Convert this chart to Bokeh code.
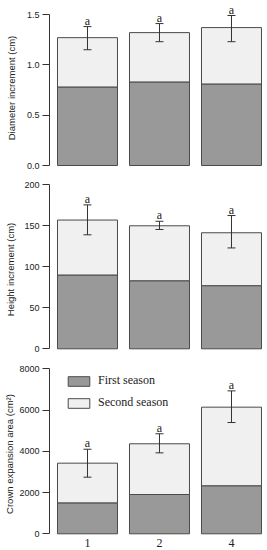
from bokeh.plotting import figure
from bokeh.models import Range1d, FixedTicker, ColumnDataSource, Whisker, TeeHead, Legend, LegendItem
from bokeh.layouts import column
from bokeh.embed import file_html
from bokeh.resources import INLINE
from bokeh.core.properties import value

# ---------------- data ----------------
categories = ["1", "2", "4"]

diam_first = [0.78, 0.83, 0.81]
diam_total = [1.27, 1.32, 1.37]
diam_err_low = [1.15, 1.23, 1.23]
diam_err_high = [1.38, 1.41, 1.49]
diam_letters = ["a", "a", "a"]
diam_ticks = [0, 0.5, 1.0, 1.5]
diam_tick_labels = ["0.0", "0.5", "1.0", "1.5"]

height_first = [90, 83, 77]
height_total = [157, 150, 141.5]
height_err_low = [139, 145.5, 123]
height_err_high = [175.5, 155.5, 162.5]
height_letters = ["a", "a", "a"]
height_ticks = [0, 50, 100, 150, 200]
height_tick_labels = ["0", "50", "100", "150", "200"]

crown_first = [1500, 1905, 2330]
crown_total = [3425, 4365, 6140]
crown_err_low = [2745, 3925, 5395]
crown_err_high = [4100, 4850, 6930]
crown_letters = ["a", "a", "a"]
crown_ticks = [0, 2000, 4000, 6000, 8000]
crown_tick_labels = ["0", "2000", "4000", "6000", "8000"]

series_names = ["First season", "Second season"]

# ---------------- style ----------------
DARK = "#999999"
LIGHT = "#f0f0f0"
EDGE = "#4a4a4a"
INK = "#222222"
SANS = "'Liberation Sans Narrow', 'Liberation Sans', Arial, sans-serif"
SANS_T = "'Liberation Sans', Arial, sans-serif"
SERIF = "'Liberation Serif', 'Times New Roman', serif"

# R barplot layout: width 1, space 0.2
xs = [0.2 + 0.5 + 1.2 * i for i in range(len(categories))]


def panel(first, total, lo, hi, letters, ticks, tick_labels, ylab,
          yr, height, mbt, standoff, show_x=False, legend=False):
    p = figure(width=267, height=height, output_backend="svg", toolbar_location=None,
               x_range=Range1d(0.0667, 3.7), y_range=Range1d(*yr),
               x_axis_location=None, min_border_left=49, min_border_right=0,
               min_border_top=mbt, min_border_bottom=0)
    p.outline_line_color = None
    p.xgrid.visible = False
    p.ygrid.visible = False
    p.background_fill_color = "white"

    src = ColumnDataSource(dict(x=xs, first=first, total=total, lo=lo, hi=hi,
                                zero=[0] * len(xs), letters=letters, cat=categories))
    r1 = p.vbar(x="x", bottom="zero", top="first", width=1.0, source=src,
                fill_color=DARK, line_color=EDGE, line_width=1)
    r2 = p.vbar(x="x", bottom="first", top="total", width=1.0, source=src,
                fill_color=LIGHT, line_color=EDGE, line_width=1)

    w = Whisker(base="x", lower="lo", upper="hi", source=src, dimension="height",
                line_color="#333333", line_width=1, level="overlay",
                upper_head=TeeHead(size=8, line_color="#333333", line_width=1),
                lower_head=TeeHead(size=8, line_color="#333333", line_width=1))
    p.add_layout(w)

    p.text(x="x", y="hi", text="letters", source=src, y_offset=-6,
           text_align="center", text_baseline="alphabetic",
           text_font=value(SERIF), text_font_size="12px", text_color=INK)

    if show_x:
        p.text(x="x", y="zero", text="cat", source=src, y_offset=9,
               text_align="center", text_baseline="middle",
               text_font=value(SERIF), text_font_size="12px", text_color=INK)

    ax = p.yaxis[0]
    ax.ticker = FixedTicker(ticks=ticks)
    ax.major_label_overrides = {t: l for t, l in zip(ticks, tick_labels)}
    ax.bounds = (ticks[0], ticks[-1])
    ax.major_tick_out = 7
    ax.major_tick_in = 0
    ax.minor_tick_line_color = None
    ax.axis_line_color = "#333333"
    ax.major_tick_line_color = "#333333"
    ax.major_label_text_font = SANS
    ax.major_label_text_font_size = "9px"
    ax.major_label_text_color = INK
    ax.major_label_standoff = 3
    ax.axis_label = ylab
    ax.axis_label_text_font = SANS_T
    ax.axis_label_text_font_size = "9.5px"
    ax.axis_label_text_font_style = "normal"
    ax.axis_label_text_color = INK
    ax.axis_label_standoff = standoff

    if legend:
        lg = Legend(items=[LegendItem(label=series_names[0], renderers=[r1]),
                           LegendItem(label=series_names[1], renderers=[r2])],
                    location="top_left", margin=16, padding=0, spacing=7,
                    glyph_width=27, glyph_height=12, label_height=12,
                    label_standoff=6, border_line_color=None,
                    background_fill_alpha=0,
                    label_text_font=SERIF, label_text_font_size="12px",
                    label_text_color=INK, label_text_baseline="middle")
        p.add_layout(lg)
    return p


p1 = panel(diam_first, diam_total, diam_err_low, diam_err_high, diam_letters,
           diam_ticks, diam_tick_labels, "Diameter increment (cm)",
           (-0.0993, 1.6391), 175, 0, 7)
p2 = panel(height_first, height_total, height_err_low, height_err_high, height_letters,
           height_ticks, height_tick_labels, "Height increment (cm)",
           (-10.6, 204.0), 182, 6, 5)
p3 = panel(crown_first, crown_total, crown_err_low, crown_err_high, crown_letters,
           crown_ticks, crown_tick_labels, "Crown expansion area (cm\u00b2)",
           (-809.7, 8547.9), 193, 0, 1, show_x=True, legend=True)

layout = column(p1, p2, p3, spacing=0)
open("out.html", "w").write(file_html(layout, INLINE))
